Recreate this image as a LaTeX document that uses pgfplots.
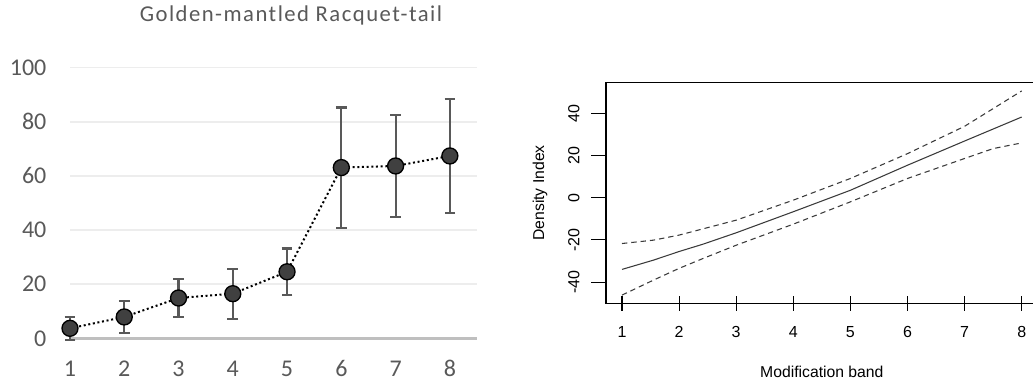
\documentclass[border=0pt]{standalone}
\usepackage{pgfplots}
\pgfplotsset{compat=1.18}
\usepackage{fontspec}
\setmainfont{Carlito}
\newfontfamily\arialfont{Liberation Sans}
\definecolor{txtgray}{HTML}{595959}
\definecolor{gridgray}{HTML}{EDEDED}
\definecolor{axgray}{HTML}{BFBFBF}
\definecolor{markfill}{HTML}{404040}
\definecolor{linegray}{HTML}{3A3A3A}
\begin{document}
\begin{tikzpicture}[x=1pt,y=1pt]
% ---------- left chart ----------
\begin{axis}[
  at={(52.5pt,33.5pt)}, anchor=south west,
  scale only axis, width=305.25pt, height=202.95pt,
  xmin=1, xmax=8.5, ymin=0, ymax=100,
  axis line style={draw=none},
  major tick length=0pt,
  xtick={1,...,8}, ytick={0,20,...,100},
  /pgf/number format/assume math mode=true,
  ymajorgrids, grid style={gridgray, line width=1.1pt},
  extra y ticks={0}, extra y tick labels={},
  extra y tick style={grid style={axgray, line width=2.6pt}},
  ticklabel style={font=\fontsize{18}{20}\selectfont, text=txtgray, inner sep=0pt},
  xticklabel style={anchor=base, yshift=-28.8pt},
  yticklabel style={anchor=east, xshift=-17.5pt},
  title={\addfontfeatures{LetterSpace=6.5}Golden-mantled Racquet-tail},
  title style={font=\fontsize{17}{19}\selectfont, text=txtgray, at={(axis description cs:0.543,1.142)}, anchor=base, inner sep=0pt},
  clip=false,
]
\addplot[only marks, mark=*, mark size=6pt, mark options={fill=markfill, draw=black, line width=1pt}]
 coordinates {(1,3.7) (2,7.9) (3,14.9) (4,16.5) (5,24.6) (6,63.1) (7,63.7) (8,67.4)};
\addplot[black, line width=1.5pt, dotted, mark=none,
  error bars/.cd, y dir=both, y explicit,
  error bar style={txtgray, line width=1.6pt, solid},
  error mark options={rotate=90, mark size=4pt, txtgray, line width=1.6pt, solid}]
 coordinates {
 (1,3.7) +- (0,4.2)
 (2,7.9) +- (0,5.8)
 (3,14.9) +- (0,7.1)
 (4,16.5) +- (0,9.2)
 (5,24.6) +- (0,8.6)
 (6,63.1) +- (0,22.2)
 (7,63.7) +- (0,18.8)
 (8,67.4) +- (0,21.0)};
\end{axis}
% ---------- right chart ----------
\begin{axis}[
  at={(454.5pt,59.775pt)}, anchor=south west,
  scale only axis, width=323.775pt, height=165.45pt,
  xmin=0.72, xmax=8.28, ymin=-50.1, ymax=54.7,
  axis line style={black, line width=0.8pt},
  xtick={1,...,8}, ytick={-40,-20,...,40},
  /pgf/number format/assume math mode=true,
  xtick pos=bottom, ytick pos=left,
  x tick style={black, line width=0.8pt},
  y tick style={black, line width=0.8pt},
  xtick align=center, ytick align=outside,
  major tick length=11pt,
  ticklabel style={font=\arialfont\fontsize{12}{14}\selectfont, inner sep=0pt},
  xticklabel style={anchor=base, yshift=-20pt},
  yticklabel style={xshift=-9pt, anchor=base, rotate=90},
  xlabel={Modification band}, ylabel={Density Index},
  label style={font=\arialfont\fontsize{11.8}{13}\selectfont, inner sep=0pt},
  xlabel style={at={(axis description cs:0.5,-0.3386)}, anchor=base},
  ylabel style={at={(axis description cs:-0.153,0.5)}, anchor=center},
]
\addplot[linegray, line width=0.8pt, mark=none] coordinates {
 (1,-34.0) (1.55,-29.6) (2,-25.5) (2.42,-22.0) (3,-16.6) (4,-6.6) (5,3.6) (6,15.5) (7,27.0) (8,38.4)};
\addplot[linegray, line width=0.8pt, mark=none, dash pattern=on 4pt off 3pt] coordinates {
 (1,-21.7) (1.55,-20.1) (2,-17.7) (3,-10.6) (4,-1.1) (5,9.2) (6,21.0) (7,34.0) (8,50.8)};
\addplot[linegray, line width=0.8pt, mark=none, dash pattern=on 4pt off 3pt] coordinates {
 (1,-46.2) (1.55,-39.1) (2,-33.5) (2.42,-28.8) (3,-22.5) (4,-12.5) (5,-1.9) (6,9.2) (7,18.7) (7.5,23.4) (8,26.1)};
\end{axis}
\pgfresetboundingbox
\useasboundingbox (0pt,0pt) rectangle (774.75pt,287.25pt);
\end{tikzpicture}
\end{document}
